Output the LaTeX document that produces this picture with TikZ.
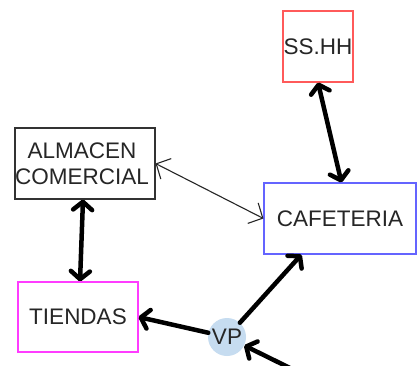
\documentclass[tikz,border=0pt]{standalone}
\usepackage{fontspec}
\setmainfont{Liberation Sans}
\usetikzlibrary{arrows.meta}
\definecolor{boxred}{RGB}{255,90,90}
\definecolor{boxblue}{RGB}{100,100,255}
\definecolor{boxmag}{RGB}{255,60,255}
\definecolor{boxgray}{RGB}{50,50,50}
\definecolor{vpfill}{RGB}{198,220,240}
\tikzset{
  roombox/.style={draw, line width=1.1pt, inner sep=0pt, align=center, text=black!85,
    font=\fontsize{22.5}{26}\selectfont},
  thicklink/.style={line width=4.5pt, line cap=round, {Straight Barb[length=8pt,width=19pt,line cap=round, line join=round]}-{Straight Barb[length=8pt,width=19pt,line cap=round, line join=round]}},
  thicksingle/.style={line width=4.5pt, line cap=round, -{Straight Barb[length=8pt,width=19pt,line cap=round, line join=round]}},
  thinlink/.style={line width=1.1pt, draw=black!85, {Straight Barb[length=11pt,width=23pt]}-{Straight Barb[length=11pt,width=23pt]}},
}
\begin{document}
\begin{tikzpicture}[x=1pt,y=-1pt]
\useasboundingbox[fill=white] (0,0) rectangle (417,366);
\node[roombox, draw=boxred, minimum width=70pt, minimum height=71pt] (ss) at (318,46.5) {SS.HH};
\node[roombox, draw=boxgray, minimum width=140pt, minimum height=71pt, text width=140pt, align=center] (alm) at (85,163.5) {\hspace*{-6pt}ALMACEN\\\hspace*{-6pt}COMERCIAL};
\node[roombox, draw=boxblue, minimum width=152pt, minimum height=71pt] (caf) at (340,218.5) {CAFETERIA};
\node[roombox, draw=boxmag, minimum width=120pt, minimum height=70pt] (tie) at (78,317) {TIENDAS};
\node[circle, fill=vpfill, minimum size=38pt, inner sep=0pt, text=black!85,
  font=\fontsize{22.5}{26}\selectfont] (vp) at (227,337) {VP};
\coordinate (inc) at (292,369);
\draw[thicklink] (ss.south) -- ([xshift=78pt]caf.north west);
\draw[thinlink] (alm.east) -- (caf.west);
\draw[thicklink] ([xshift=-2pt]alm.south) -- ([xshift=2pt]tie.north);
\draw[thicksingle] (vp) -- (tie.east);
\draw[thicksingle] (vp) -- ([xshift=38pt]caf.south west);
\draw[thicksingle] (inc) -- (vp);
\end{tikzpicture}
\end{document}
